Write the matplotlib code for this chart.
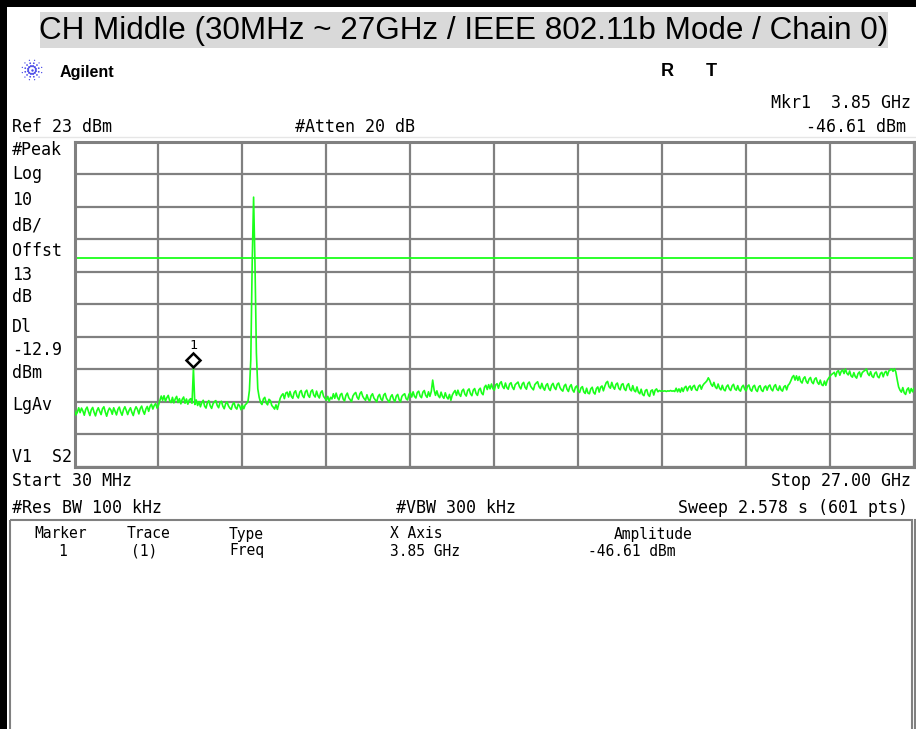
import numpy as np
import matplotlib
matplotlib.use("Agg")
import matplotlib.pyplot as plt
from matplotlib.patches import Rectangle
import matplotlib.transforms as mtransforms

# ---- canvas (pixel units) ----
W, H = 916, 729

# ---- analyzer settings ----
title = "CH Middle (30MHz ~ 27GHz / IEEE 802.11b Mode / Chain 0)"
start_ghz = 0.03
stop_ghz = 27.0
ref_dbm = 23.0
db_per_div = 10.0
n_div = 10
display_line_dbm = -12.9
marker_ghz = 3.85
marker_dbm = -46.61

# ---- sweep trace, 601 points, dBm ----
trace_dbm = [
    -59.4, -61.0, -60.2, -58.8, -60.3, -58.9, -59.8, -61.1, -59.3, -58.6, -60.0, -61.2, -59.4, -58.7, -60.2, -61.3, -59.7, -58.8, -59.9, -60.9,
    -59.1, -58.5, -60.1, -61.4, -59.8, -58.9, -59.5, -60.8, -58.8, -59.9, -61.0, -59.3, -58.6, -60.1, -61.1, -59.4, -58.5, -59.6, -60.9, -59.6,
    -58.8, -60.2, -61.2, -59.5, -58.5, -59.3, -60.7, -59.0, -58.3, -59.8, -60.8, -59.2, -58.4, -59.9, -58.4, -57.7, -59.2, -58.1, -57.5, -58.9,
    -58.0, -56.6, -55.2, -56.5, -55.1, -56.8, -55.7, -55.0, -56.6, -57.2, -55.6, -57.3, -56.1, -55.3, -57.2, -56.0, -57.6, -56.2, -55.5, -57.4,
    -56.1, -57.7, -56.4, -56.0, -57.4, -46.61, -57.8, -56.4, -58.1, -56.9, -58.5, -57.2, -56.5, -58.3, -58.9, -57.2, -56.6, -58.2, -59.0, -57.6,
    -56.9, -56.6, -58.1, -58.8, -57.2, -56.8, -58.3, -59.1, -57.6, -57.0, -58.2, -58.9, -59.3, -57.8, -57.2, -58.7, -59.2, -57.7, -58.2, -59.4,
    -58.0, -59.1, -57.9, -57.5, -56.8, -53.5, -44.0, -14.2, 5.9, -14.8, -42.0, -53.0, -55.6, -57.2, -57.8, -56.1, -55.6, -57.3, -57.9, -56.2,
    -56.6, -58.1, -58.6, -59.2, -57.9, -59.3, -57.6, -55.9, -55.0, -54.5, -56.0, -54.3, -54.0, -55.5, -53.8, -55.3, -55.9, -54.1, -53.6, -55.2,
    -55.8, -54.0, -53.5, -55.1, -55.7, -53.9, -53.4, -55.0, -55.6, -53.8, -53.3, -54.9, -55.5, -53.7, -55.1, -55.8, -54.1, -53.6, -55.3, -55.9,
    -56.5, -55.3, -56.8, -55.6, -56.1, -54.5, -55.9, -54.3, -55.7, -56.4, -54.8, -54.4, -56.1, -56.7, -55.0, -54.3, -55.7, -56.3, -56.9, -55.2,
    -54.5, -54.1, -55.6, -56.2, -54.5, -53.9, -55.3, -56.0, -56.5, -54.8, -56.2, -56.8, -55.1, -54.5, -55.8, -56.4, -57.0, -55.3, -54.7, -56.1,
    -56.6, -54.9, -54.4, -55.9, -56.5, -57.1, -55.4, -54.8, -56.2, -56.9, -55.2, -54.7, -56.3, -57.0, -55.3, -54.8, -54.5, -56.0, -56.4, -54.7,
    -54.1, -55.5, -53.9, -55.3, -55.8, -54.1, -53.7, -55.2, -55.7, -54.0, -53.5, -55.0, -55.6, -53.9, -55.3, -53.8, -50.3, -53.3, -55.0, -53.6,
    -55.1, -55.7, -54.0, -55.3, -55.9, -54.2, -55.5, -56.1, -54.7, -56.5, -54.9, -54.1, -53.5, -55.0, -53.4, -54.7, -55.3, -53.6, -53.1, -54.6,
    -55.2, -53.5, -53.0, -54.5, -55.1, -53.4, -52.9, -54.4, -55.0, -53.3, -52.8, -54.3, -54.8, -52.5, -51.9, -53.2, -51.7, -53.0, -51.5, -52.9,
    -53.4, -51.8, -51.4, -52.8, -51.3, -50.8, -52.3, -52.9, -51.2, -52.6, -53.1, -51.5, -51.1, -52.5, -53.2, -51.7, -51.3, -50.9, -52.3, -53.0,
    -51.5, -51.0, -52.5, -53.1, -51.4, -50.9, -52.2, -52.8, -53.3, -51.7, -51.2, -50.8, -52.3, -52.9, -51.3, -52.7, -53.4, -51.9, -51.4, -52.9,
    -53.5, -51.9, -51.3, -52.6, -53.2, -51.6, -51.2, -52.6, -53.3, -53.7, -52.1, -51.6, -53.1, -53.8, -52.3, -51.7, -53.3, -54.0, -52.5, -52.1,
    -53.6, -54.1, -52.7, -52.3, -53.9, -54.4, -52.8, -54.3, -54.5, -53.0, -52.5, -54.1, -54.6, -52.9, -52.4, -54.0, -52.5, -52.1, -53.6, -52.2,
    -51.1, -50.7, -52.3, -52.8, -51.0, -52.4, -53.1, -51.6, -51.2, -52.8, -53.3, -51.7, -51.4, -53.0, -53.5, -51.9, -51.4, -53.1, -53.6, -52.0,
    -53.5, -53.9, -52.4, -54.0, -54.5, -53.1, -54.7, -55.1, -53.5, -53.2, -54.8, -55.3, -53.6, -53.3, -54.9, -53.4, -53.0, -53.9, -53.5, -53.7,
    -53.6, -53.7, -53.6, -53.8, -53.6, -53.7, -53.5, -53.7, -53.6, -53.8, -52.8, -53.9, -53.0, -54.0, -52.7, -53.8, -52.6, -52.2, -53.6, -52.5,
    -52.1, -53.4, -52.3, -51.9, -53.2, -53.5, -52.2, -51.8, -53.1, -52.0, -51.4, -51.0, -50.5, -49.6, -50.4, -51.6, -52.2, -51.0, -52.4, -52.9,
    -51.5, -52.8, -53.3, -51.9, -53.2, -53.6, -52.3, -51.8, -53.0, -53.5, -52.1, -51.6, -53.0, -53.4, -52.0, -53.3, -53.7, -52.4, -51.9, -53.1,
    -53.6, -52.2, -51.8, -53.2, -53.7, -52.3, -51.9, -53.3, -53.8, -52.4, -52.0, -53.4, -53.8, -52.5, -52.1, -53.4, -52.2, -51.8, -53.1, -53.6,
    -52.2, -51.7, -53.1, -53.5, -52.1, -53.3, -53.7, -52.4, -52.0, -53.3, -51.9, -51.4, -50.5, -49.4, -48.9, -50.3, -49.0, -50.4, -49.2, -50.7,
    -51.2, -49.8, -49.3, -50.7, -51.3, -50.0, -49.5, -50.9, -51.4, -50.0, -49.6, -51.0, -51.6, -50.3, -51.7, -52.0, -50.6, -51.9, -50.4, -49.7,
    -49.1, -48.6, -48.3, -47.9, -49.2, -47.7, -47.4, -48.8, -47.6, -47.2, -48.3, -46.9, -48.2, -48.7, -47.5, -49.0, -49.4, -48.0, -49.2, -49.7,
    -48.3, -47.8, -49.3, -48.0, -47.6, -47.3, -46.9, -48.3, -48.9, -47.7, -49.1, -49.5, -48.2, -47.8, -49.2, -49.6, -48.3, -47.9, -49.3, -48.0,
    -47.6, -48.9, -47.5, -47.2, -46.9, -47.6, -46.8, -47.8, -50.2, -52.4, -53.4, -54.0, -52.6, -54.2, -54.7, -53.2, -52.7, -54.3, -52.9, -53.9,
    -52.8,
]

# ---- annotation text ----
side_labels = ["#Peak", "Log", "10", "dB/", "Offst", "13", "dB", "Dl", "-12.9", "dBm", "LgAv", "V1  S2"]
side_label_y = [150, 174, 200, 225, 251, 275, 297, 327, 350, 373, 405, 457]
table_header = ["Marker", "Trace", "Type", "X Axis", "Amplitude"]
table_row = ["1", "(1)", "Freq", "3.85 GHz", "-46.61 dBm"]
table_header_x = [34, 127, 229, 390, 614]
table_row_x = [58, 131, 229, 390, 588]

GRID = "#808080"
TRACE = "#1aff1a"
MONO = "DejaVu Sans Mono"
SANS = "Liberation Sans"

fig = plt.figure(figsize=(W / 100, H / 100), dpi=100)
fig.patch.set_facecolor("white")

# overlay in pixel coordinates for the surrounding screen furniture
ov = fig.add_axes([0, 0, 1, 1])
ov.set_xlim(0, W)
ov.set_ylim(H, 0)
ov.axis("off")

# outer black frame
ov.add_patch(Rectangle((0, 0), W, 6.5, color="black", lw=0))
ov.add_patch(Rectangle((0, 0), 6.5, H, color="black", lw=0))

# title with highlight band
ov.add_patch(Rectangle((39.5, 12), 848, 36, color="#d9d9d9", lw=0))
ov.text(463.5, 30.5, title, ha="center", va="center", fontsize=22.6,
        family=SANS, color="black")

# Agilent logo: dotted starburst
cx, cy = 32, 70
for k in range(12):
    ang = np.pi * k / 6 + np.pi / 12
    rr = np.array([4.0, 7.0, 10.0])
    ov.scatter(cx + rr * np.cos(ang), cy + rr * np.sin(ang),
               s=[2.5, 1.6, 0.9], color="#4a4ae8", lw=0)
ov.scatter([cx], [cy], s=3, color="#4a4ae8", lw=0)
ov.text(60, 72, "Agilent", ha="left", va="center", fontsize=11.6,
        family=SANS, weight="bold")
ov.text(667, 71.5, "R", ha="center", va="center", fontsize=13, family=SANS, weight="bold")
ov.text(711, 71.5, "T", ha="center", va="center", fontsize=13, family=SANS, weight="bold")

# header readouts
fs = 12
ov.text(911, 103, "Mkr1  3.85 GHz", ha="right", va="center", fontsize=fs, family=MONO)
ov.text(906, 127, "-46.61 dBm", ha="right", va="center", fontsize=fs, family=MONO)
ov.text(12, 127, "Ref 23 dBm", ha="left", va="center", fontsize=fs, family=MONO)
ov.text(295, 127, "#Atten 20 dB", ha="left", va="center", fontsize=fs, family=MONO)
ov.plot([20, W], [137, 137], color="#e6e6e6", lw=1)

for lab, yy in zip(side_labels, side_label_y):
    ov.text(12, yy, lab, ha="left", va="center", fontsize=fs, family=MONO)

# footer readouts
ov.text(12, 481, "Start 30 MHz", ha="left", va="center", fontsize=fs, family=MONO)
ov.text(911, 481, "Stop 27.00 GHz", ha="right", va="center", fontsize=fs, family=MONO)
ov.text(12, 508, "#Res BW 100 kHz", ha="left", va="center", fontsize=fs, family=MONO)
ov.text(396, 508, "#VBW 300 kHz", ha="left", va="center", fontsize=fs, family=MONO)
ov.text(908, 508, "Sweep 2.578 s (601 pts)", ha="right", va="center", fontsize=fs, family=MONO)

# marker table
ov.add_patch(Rectangle((10, 519.5), 902, 220, fill=False, ec=GRID, lw=1.5))
ov.plot([915, 915], [519.5, H], color=GRID, lw=1.5)
for txt, xx in zip(table_header, table_header_x):
    ov.text(xx, 534, txt, ha="left", va="center", fontsize=10.5, family=MONO)
for txt, xx in zip(table_row, table_row_x):
    ov.text(xx, 551, txt, ha="left", va="center", fontsize=10.5, family=MONO)

# ---- spectrum graticule ----
x0, x1, y0, y1 = 74.5, 914.0, 141.5, 467.0
ax = fig.add_axes([x0 / W, 1 - y1 / H, (x1 - x0) / W, (y1 - y0) / H])
ax.set_facecolor("white")
bottom_dbm = ref_dbm - n_div * db_per_div
ax.set_xlim(start_ghz, stop_ghz)
ax.set_ylim(bottom_dbm, ref_dbm)
ax.set_xticks(np.linspace(start_ghz, stop_ghz, n_div + 1))
ax.set_yticks(np.linspace(bottom_dbm, ref_dbm, n_div + 1))
ax.tick_params(length=0, labelbottom=False, labelleft=False)
ax.grid(True, color=GRID, lw=1.6)
for sp in ax.spines.values():
    sp.set_color(GRID)
    sp.set_linewidth(2.2)

freqs = np.linspace(start_ghz, stop_ghz, len(trace_dbm))
ax.axhline(display_line_dbm, color=TRACE, lw=1.3, zorder=2)
ax.plot(freqs, trace_dbm, color=TRACE, lw=1.2, zorder=3)

# marker diamond sits just above the marked point
up = mtransforms.offset_copy(ax.transData, fig=fig, x=0, y=8, units="dots")
ax.plot([marker_ghz], [marker_dbm], marker="D", ms=7.5, mfc="white", mec="black",
        mew=1.8, transform=up, zorder=5, clip_on=False)
lab_t = mtransforms.offset_copy(ax.transData, fig=fig, x=0, y=23, units="dots")
ax.text(marker_ghz, marker_dbm, "1", transform=lab_t, ha="center", va="center",
        fontsize=9.5, family=MONO, zorder=5)

ov.text(911, 441, "^", ha="center", va="center", fontsize=8, family=MONO, color="#444444")

fig.savefig("out.png", dpi=100)
